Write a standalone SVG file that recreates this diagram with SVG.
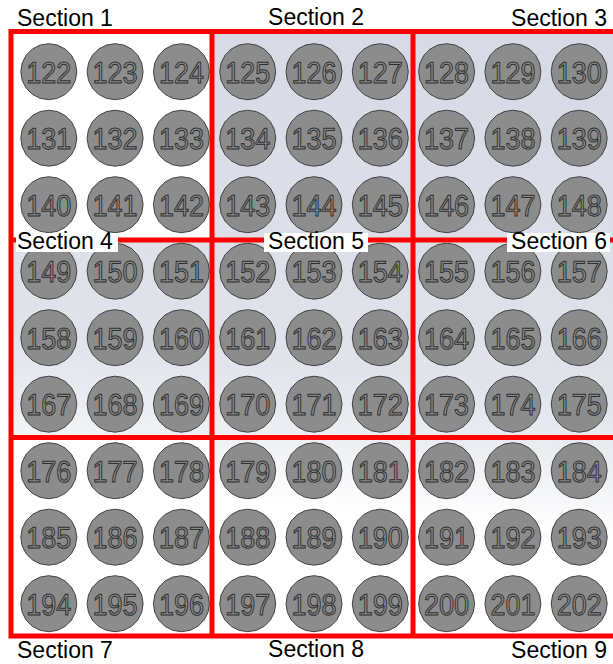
<svg xmlns="http://www.w3.org/2000/svg" xmlns:xlink="http://www.w3.org/1999/xlink" width="613" height="664" viewBox="0 0 613 664">
<style>
.coin{fill:#8c8c8c;stroke:#404040;stroke-width:1}
.num{font-family:"Liberation Sans",Arial,sans-serif;font-size:30px;fill:#8c8c8c;stroke:#2e2e2e;stroke-width:1;text-anchor:middle;text-rendering:geometricPrecision}
.lbl{font-family:"Liberation Sans",Arial,sans-serif;font-size:23px;fill:#000}
.red{stroke:#ff0000;stroke-width:5;fill:none}
</style>
<defs>
<linearGradient id="bg" x1="0.1" y1="0" x2="0" y2="1">
<stop offset="0" stop-color="#d8dbe5"/>
<stop offset="0.5" stop-color="#e0e3ea"/>
<stop offset="0.62" stop-color="#eceef3"/>
<stop offset="0.74" stop-color="#ffffff"/>
<stop offset="1" stop-color="#ffffff"/>
</linearGradient>
<polygon id="coin" class="coin" points="28,0 26.63,8.65 22.65,16.46 16.46,22.65 8.65,26.63 0,28 -8.65,26.63 -16.46,22.65 -22.65,16.46 -26.63,8.65 -28,0 -26.63,-8.65 -22.65,-16.46 -16.46,-22.65 -8.65,-26.63 0,-28 8.65,-26.63 16.46,-22.65 22.65,-16.46 26.63,-8.65"/>
</defs>
<rect x="0" y="0" width="613" height="664" fill="#fff"/>
<rect x="11" y="32" width="602" height="604" fill="url(#bg)"/>
<rect x="11" y="32" width="201" height="208" fill="#fff"/>
<rect x="11" y="437" width="201" height="199" fill="#fff"/>
<g id="nodes">
<g id="n122"><use xlink:href="#coin" x="48.8" y="71.7"/><text class="num" x="48.8" y="82.7" textLength="45" lengthAdjust="spacingAndGlyphs">122</text></g>
<g id="n123"><use xlink:href="#coin" x="115.1" y="71.7"/><text class="num" x="115.1" y="82.7" textLength="45" lengthAdjust="spacingAndGlyphs">123</text></g>
<g id="n124"><use xlink:href="#coin" x="181.4" y="71.7"/><text class="num" x="181.4" y="82.7" textLength="45" lengthAdjust="spacingAndGlyphs">124</text></g>
<g id="n125"><use xlink:href="#coin" x="247.7" y="71.7"/><text class="num" x="247.7" y="82.7" textLength="45" lengthAdjust="spacingAndGlyphs">125</text></g>
<g id="n126"><use xlink:href="#coin" x="314" y="71.7"/><text class="num" x="314" y="82.7" textLength="45" lengthAdjust="spacingAndGlyphs">126</text></g>
<g id="n127"><use xlink:href="#coin" x="380.3" y="71.7"/><text class="num" x="380.3" y="82.7" textLength="45" lengthAdjust="spacingAndGlyphs">127</text></g>
<g id="n128"><use xlink:href="#coin" x="446.6" y="71.7"/><text class="num" x="446.6" y="82.7" textLength="45" lengthAdjust="spacingAndGlyphs">128</text></g>
<g id="n129"><use xlink:href="#coin" x="512.9" y="71.7"/><text class="num" x="512.9" y="82.7" textLength="45" lengthAdjust="spacingAndGlyphs">129</text></g>
<g id="n130"><use xlink:href="#coin" x="579.2" y="71.7"/><text class="num" x="579.2" y="82.7" textLength="45" lengthAdjust="spacingAndGlyphs">130</text></g>
<g id="n131"><use xlink:href="#coin" x="48.8" y="138.2"/><text class="num" x="48.8" y="149.2" textLength="45" lengthAdjust="spacingAndGlyphs">131</text></g>
<g id="n132"><use xlink:href="#coin" x="115.1" y="138.2"/><text class="num" x="115.1" y="149.2" textLength="45" lengthAdjust="spacingAndGlyphs">132</text></g>
<g id="n133"><use xlink:href="#coin" x="181.4" y="138.2"/><text class="num" x="181.4" y="149.2" textLength="45" lengthAdjust="spacingAndGlyphs">133</text></g>
<g id="n134"><use xlink:href="#coin" x="247.7" y="138.2"/><text class="num" x="247.7" y="149.2" textLength="45" lengthAdjust="spacingAndGlyphs">134</text></g>
<g id="n135"><use xlink:href="#coin" x="314" y="138.2"/><text class="num" x="314" y="149.2" textLength="45" lengthAdjust="spacingAndGlyphs">135</text></g>
<g id="n136"><use xlink:href="#coin" x="380.3" y="138.2"/><text class="num" x="380.3" y="149.2" textLength="45" lengthAdjust="spacingAndGlyphs">136</text></g>
<g id="n137"><use xlink:href="#coin" x="446.6" y="138.2"/><text class="num" x="446.6" y="149.2" textLength="45" lengthAdjust="spacingAndGlyphs">137</text></g>
<g id="n138"><use xlink:href="#coin" x="512.9" y="138.2"/><text class="num" x="512.9" y="149.2" textLength="45" lengthAdjust="spacingAndGlyphs">138</text></g>
<g id="n139"><use xlink:href="#coin" x="579.2" y="138.2"/><text class="num" x="579.2" y="149.2" textLength="45" lengthAdjust="spacingAndGlyphs">139</text></g>
<g id="n140"><use xlink:href="#coin" x="48.8" y="204.7"/><text class="num" x="48.8" y="215.7" textLength="45" lengthAdjust="spacingAndGlyphs">140</text></g>
<g id="n141"><use xlink:href="#coin" x="115.1" y="204.7"/><text class="num" x="115.1" y="215.7" textLength="45" lengthAdjust="spacingAndGlyphs">141</text></g>
<g id="n142"><use xlink:href="#coin" x="181.4" y="204.7"/><text class="num" x="181.4" y="215.7" textLength="45" lengthAdjust="spacingAndGlyphs">142</text></g>
<g id="n143"><use xlink:href="#coin" x="247.7" y="204.7"/><text class="num" x="247.7" y="215.7" textLength="45" lengthAdjust="spacingAndGlyphs">143</text></g>
<g id="n144"><use xlink:href="#coin" x="314" y="204.7"/><text class="num" x="314" y="215.7" textLength="45" lengthAdjust="spacingAndGlyphs">144</text></g>
<g id="n145"><use xlink:href="#coin" x="380.3" y="204.7"/><text class="num" x="380.3" y="215.7" textLength="45" lengthAdjust="spacingAndGlyphs">145</text></g>
<g id="n146"><use xlink:href="#coin" x="446.6" y="204.7"/><text class="num" x="446.6" y="215.7" textLength="45" lengthAdjust="spacingAndGlyphs">146</text></g>
<g id="n147"><use xlink:href="#coin" x="512.9" y="204.7"/><text class="num" x="512.9" y="215.7" textLength="45" lengthAdjust="spacingAndGlyphs">147</text></g>
<g id="n148"><use xlink:href="#coin" x="579.2" y="204.7"/><text class="num" x="579.2" y="215.7" textLength="45" lengthAdjust="spacingAndGlyphs">148</text></g>
<g id="n149"><use xlink:href="#coin" x="48.8" y="271.2"/><text class="num" x="48.8" y="282.2" textLength="45" lengthAdjust="spacingAndGlyphs">149</text></g>
<g id="n150"><use xlink:href="#coin" x="115.1" y="271.2"/><text class="num" x="115.1" y="282.2" textLength="45" lengthAdjust="spacingAndGlyphs">150</text></g>
<g id="n151"><use xlink:href="#coin" x="181.4" y="271.2"/><text class="num" x="181.4" y="282.2" textLength="45" lengthAdjust="spacingAndGlyphs">151</text></g>
<g id="n152"><use xlink:href="#coin" x="247.7" y="271.2"/><text class="num" x="247.7" y="282.2" textLength="45" lengthAdjust="spacingAndGlyphs">152</text></g>
<g id="n153"><use xlink:href="#coin" x="314" y="271.2"/><text class="num" x="314" y="282.2" textLength="45" lengthAdjust="spacingAndGlyphs">153</text></g>
<g id="n154"><use xlink:href="#coin" x="380.3" y="271.2"/><text class="num" x="380.3" y="282.2" textLength="45" lengthAdjust="spacingAndGlyphs">154</text></g>
<g id="n155"><use xlink:href="#coin" x="446.6" y="271.2"/><text class="num" x="446.6" y="282.2" textLength="45" lengthAdjust="spacingAndGlyphs">155</text></g>
<g id="n156"><use xlink:href="#coin" x="512.9" y="271.2"/><text class="num" x="512.9" y="282.2" textLength="45" lengthAdjust="spacingAndGlyphs">156</text></g>
<g id="n157"><use xlink:href="#coin" x="579.2" y="271.2"/><text class="num" x="579.2" y="282.2" textLength="45" lengthAdjust="spacingAndGlyphs">157</text></g>
<g id="n158"><use xlink:href="#coin" x="48.8" y="337.7"/><text class="num" x="48.8" y="348.7" textLength="45" lengthAdjust="spacingAndGlyphs">158</text></g>
<g id="n159"><use xlink:href="#coin" x="115.1" y="337.7"/><text class="num" x="115.1" y="348.7" textLength="45" lengthAdjust="spacingAndGlyphs">159</text></g>
<g id="n160"><use xlink:href="#coin" x="181.4" y="337.7"/><text class="num" x="181.4" y="348.7" textLength="45" lengthAdjust="spacingAndGlyphs">160</text></g>
<g id="n161"><use xlink:href="#coin" x="247.7" y="337.7"/><text class="num" x="247.7" y="348.7" textLength="45" lengthAdjust="spacingAndGlyphs">161</text></g>
<g id="n162"><use xlink:href="#coin" x="314" y="337.7"/><text class="num" x="314" y="348.7" textLength="45" lengthAdjust="spacingAndGlyphs">162</text></g>
<g id="n163"><use xlink:href="#coin" x="380.3" y="337.7"/><text class="num" x="380.3" y="348.7" textLength="45" lengthAdjust="spacingAndGlyphs">163</text></g>
<g id="n164"><use xlink:href="#coin" x="446.6" y="337.7"/><text class="num" x="446.6" y="348.7" textLength="45" lengthAdjust="spacingAndGlyphs">164</text></g>
<g id="n165"><use xlink:href="#coin" x="512.9" y="337.7"/><text class="num" x="512.9" y="348.7" textLength="45" lengthAdjust="spacingAndGlyphs">165</text></g>
<g id="n166"><use xlink:href="#coin" x="579.2" y="337.7"/><text class="num" x="579.2" y="348.7" textLength="45" lengthAdjust="spacingAndGlyphs">166</text></g>
<g id="n167"><use xlink:href="#coin" x="48.8" y="404.2"/><text class="num" x="48.8" y="415.2" textLength="45" lengthAdjust="spacingAndGlyphs">167</text></g>
<g id="n168"><use xlink:href="#coin" x="115.1" y="404.2"/><text class="num" x="115.1" y="415.2" textLength="45" lengthAdjust="spacingAndGlyphs">168</text></g>
<g id="n169"><use xlink:href="#coin" x="181.4" y="404.2"/><text class="num" x="181.4" y="415.2" textLength="45" lengthAdjust="spacingAndGlyphs">169</text></g>
<g id="n170"><use xlink:href="#coin" x="247.7" y="404.2"/><text class="num" x="247.7" y="415.2" textLength="45" lengthAdjust="spacingAndGlyphs">170</text></g>
<g id="n171"><use xlink:href="#coin" x="314" y="404.2"/><text class="num" x="314" y="415.2" textLength="45" lengthAdjust="spacingAndGlyphs">171</text></g>
<g id="n172"><use xlink:href="#coin" x="380.3" y="404.2"/><text class="num" x="380.3" y="415.2" textLength="45" lengthAdjust="spacingAndGlyphs">172</text></g>
<g id="n173"><use xlink:href="#coin" x="446.6" y="404.2"/><text class="num" x="446.6" y="415.2" textLength="45" lengthAdjust="spacingAndGlyphs">173</text></g>
<g id="n174"><use xlink:href="#coin" x="512.9" y="404.2"/><text class="num" x="512.9" y="415.2" textLength="45" lengthAdjust="spacingAndGlyphs">174</text></g>
<g id="n175"><use xlink:href="#coin" x="579.2" y="404.2"/><text class="num" x="579.2" y="415.2" textLength="45" lengthAdjust="spacingAndGlyphs">175</text></g>
<g id="n176"><use xlink:href="#coin" x="48.8" y="470.7"/><text class="num" x="48.8" y="481.7" textLength="45" lengthAdjust="spacingAndGlyphs">176</text></g>
<g id="n177"><use xlink:href="#coin" x="115.1" y="470.7"/><text class="num" x="115.1" y="481.7" textLength="45" lengthAdjust="spacingAndGlyphs">177</text></g>
<g id="n178"><use xlink:href="#coin" x="181.4" y="470.7"/><text class="num" x="181.4" y="481.7" textLength="45" lengthAdjust="spacingAndGlyphs">178</text></g>
<g id="n179"><use xlink:href="#coin" x="247.7" y="470.7"/><text class="num" x="247.7" y="481.7" textLength="45" lengthAdjust="spacingAndGlyphs">179</text></g>
<g id="n180"><use xlink:href="#coin" x="314" y="470.7"/><text class="num" x="314" y="481.7" textLength="45" lengthAdjust="spacingAndGlyphs">180</text></g>
<g id="n181"><use xlink:href="#coin" x="380.3" y="470.7"/><text class="num" x="380.3" y="481.7" textLength="45" lengthAdjust="spacingAndGlyphs">181</text></g>
<g id="n182"><use xlink:href="#coin" x="446.6" y="470.7"/><text class="num" x="446.6" y="481.7" textLength="45" lengthAdjust="spacingAndGlyphs">182</text></g>
<g id="n183"><use xlink:href="#coin" x="512.9" y="470.7"/><text class="num" x="512.9" y="481.7" textLength="45" lengthAdjust="spacingAndGlyphs">183</text></g>
<g id="n184"><use xlink:href="#coin" x="579.2" y="470.7"/><text class="num" x="579.2" y="481.7" textLength="45" lengthAdjust="spacingAndGlyphs">184</text></g>
<g id="n185"><use xlink:href="#coin" x="48.8" y="537.2"/><text class="num" x="48.8" y="548.2" textLength="45" lengthAdjust="spacingAndGlyphs">185</text></g>
<g id="n186"><use xlink:href="#coin" x="115.1" y="537.2"/><text class="num" x="115.1" y="548.2" textLength="45" lengthAdjust="spacingAndGlyphs">186</text></g>
<g id="n187"><use xlink:href="#coin" x="181.4" y="537.2"/><text class="num" x="181.4" y="548.2" textLength="45" lengthAdjust="spacingAndGlyphs">187</text></g>
<g id="n188"><use xlink:href="#coin" x="247.7" y="537.2"/><text class="num" x="247.7" y="548.2" textLength="45" lengthAdjust="spacingAndGlyphs">188</text></g>
<g id="n189"><use xlink:href="#coin" x="314" y="537.2"/><text class="num" x="314" y="548.2" textLength="45" lengthAdjust="spacingAndGlyphs">189</text></g>
<g id="n190"><use xlink:href="#coin" x="380.3" y="537.2"/><text class="num" x="380.3" y="548.2" textLength="45" lengthAdjust="spacingAndGlyphs">190</text></g>
<g id="n191"><use xlink:href="#coin" x="446.6" y="537.2"/><text class="num" x="446.6" y="548.2" textLength="45" lengthAdjust="spacingAndGlyphs">191</text></g>
<g id="n192"><use xlink:href="#coin" x="512.9" y="537.2"/><text class="num" x="512.9" y="548.2" textLength="45" lengthAdjust="spacingAndGlyphs">192</text></g>
<g id="n193"><use xlink:href="#coin" x="579.2" y="537.2"/><text class="num" x="579.2" y="548.2" textLength="45" lengthAdjust="spacingAndGlyphs">193</text></g>
<g id="n194"><use xlink:href="#coin" x="48.8" y="603.7"/><text class="num" x="48.8" y="614.7" textLength="45" lengthAdjust="spacingAndGlyphs">194</text></g>
<g id="n195"><use xlink:href="#coin" x="115.1" y="603.7"/><text class="num" x="115.1" y="614.7" textLength="45" lengthAdjust="spacingAndGlyphs">195</text></g>
<g id="n196"><use xlink:href="#coin" x="181.4" y="603.7"/><text class="num" x="181.4" y="614.7" textLength="45" lengthAdjust="spacingAndGlyphs">196</text></g>
<g id="n197"><use xlink:href="#coin" x="247.7" y="603.7"/><text class="num" x="247.7" y="614.7" textLength="45" lengthAdjust="spacingAndGlyphs">197</text></g>
<g id="n198"><use xlink:href="#coin" x="314" y="603.7"/><text class="num" x="314" y="614.7" textLength="45" lengthAdjust="spacingAndGlyphs">198</text></g>
<g id="n199"><use xlink:href="#coin" x="380.3" y="603.7"/><text class="num" x="380.3" y="614.7" textLength="45" lengthAdjust="spacingAndGlyphs">199</text></g>
<g id="n200"><use xlink:href="#coin" x="446.6" y="603.7"/><text class="num" x="446.6" y="614.7" textLength="45" lengthAdjust="spacingAndGlyphs">200</text></g>
<g id="n201"><use xlink:href="#coin" x="512.9" y="603.7"/><text class="num" x="512.9" y="614.7" textLength="45" lengthAdjust="spacingAndGlyphs">201</text></g>
<g id="n202"><use xlink:href="#coin" x="579.2" y="603.7"/><text class="num" x="579.2" y="614.7" textLength="45" lengthAdjust="spacingAndGlyphs">202</text></g>
</g>
<g id="grid">
<rect class="red" x="11" y="31.5" width="608" height="604.5"/>
<line class="red" x1="212" y1="31.5" x2="212" y2="636"/>
<line class="red" x1="413" y1="31.5" x2="413" y2="636"/>
<line class="red" x1="11" y1="240" x2="613" y2="240"/>
<line class="red" x1="11" y1="437.5" x2="613" y2="437.5"/>
</g>
<g id="labels">
<text class="lbl" x="17" y="26">Section 1</text>
<text class="lbl" x="316" y="25" text-anchor="middle">Section 2</text>
<text class="lbl" x="607" y="26" text-anchor="end">Section 3</text>
<rect x="16" y="233" width="102" height="19" fill="#fff"/>
<text class="lbl" x="17" y="249">Section 4</text>
<rect x="264" y="233" width="104" height="19" fill="#fff"/>
<text class="lbl" x="316" y="249" text-anchor="middle">Section 5</text>
<rect x="507" y="233" width="103" height="19" fill="#fff"/>
<text class="lbl" x="607" y="249" text-anchor="end">Section 6</text>
<text class="lbl" x="17" y="658">Section 7</text>
<text class="lbl" x="316" y="657" text-anchor="middle">Section 8</text>
<text class="lbl" x="607" y="658" text-anchor="end">Section 9</text>
</g>
</svg>
